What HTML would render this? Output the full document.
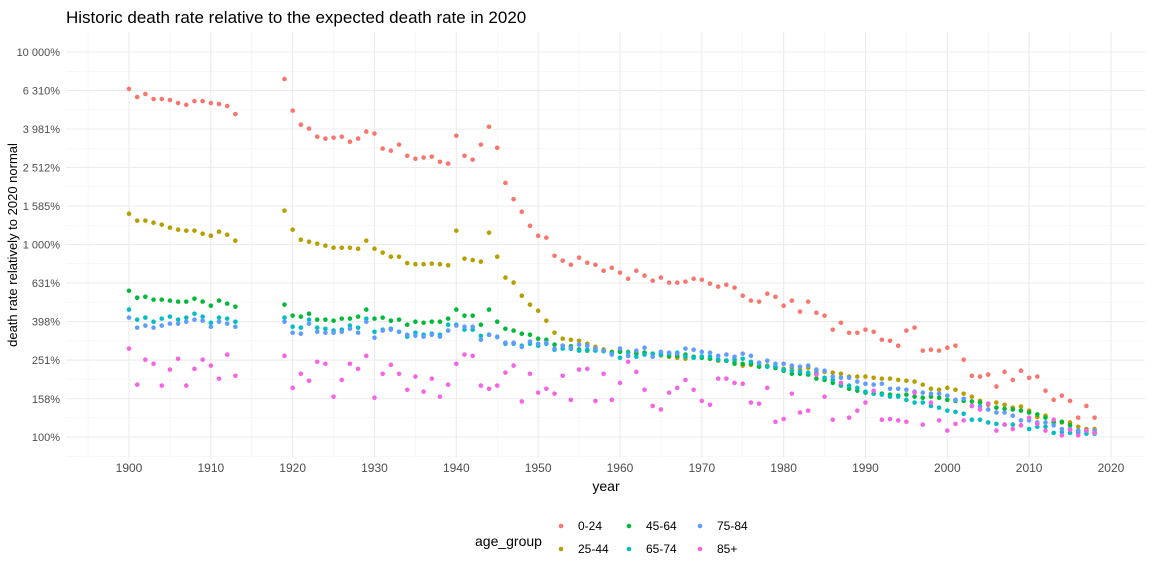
<!DOCTYPE html>
<html><head><meta charset="utf-8"><style>
body{margin:0;background:#fff;}
svg{display:block;font-family:"Liberation Sans",Arial,sans-serif;}
</style></head><body>
<svg id="chart" width="1152" height="576">
<rect width="1152" height="576" fill="#fff"/>
<text x="66" y="23" font-size="17" fill="#000">Historic death rate relative to the expected death rate in 2020</text>
<g id="grid"></g>
<g id="points"></g>
<g id="axes"></g>
<text x="606" y="491" font-size="14" text-anchor="middle" fill="#000">year</text>
<text transform="translate(17,245) rotate(-90)" font-size="13" text-anchor="middle" fill="#000">death rate relatively to 2020 normal</text>
<g id="legend">
<text x="475" y="546" font-size="14" fill="#000">age_group</text>
</g>
</svg>
<script>
const yearsA=[];for(let y=1900;y<=1913;y++)yearsA.push(y);for(let y=1919;y<=2018;y++)yearsA.push(y);
const groups=["0-24","25-44","45-64","65-74","75-84","85+"];
const s0_24=[6430,5840,6050,5700,5700,5630,5430,5310,5560,5560,5430,5370,5240,4760,
7240,4960,4190,4000,3630,3550,3590,3630,3420,3550,3860,3770,3150,3070,3300,2890,2790,2830,2860,2690,2630,3670,2890,2760,3300,4090,3180,
2090,1720,1480,1250,1110,1085,874,824,785,854,804,785,731,757,714,664,731,689,649,673,634,634,641,664,656,626,604,618,597,542,511,505,555,535,481,511,448,505,442,
427,361,392,348,348,361,352,320,316,298,357,370,281,284,281,291,298,252,208,206,211,183,218,198,221,203,206,174,156,164,154,126,145,126];
const s25_44=[1445,1330,1330,1298,1268,1223,1194,1180,1180,1138,1111,1165,1124,1047,
1499,1194,1059,1034,1010,986,962,962,962,951,1047,951,907,864,864,800,790,790,795,790,780,1180,844,830,815,1152,864,
673,634,542,487,453,402,348,324,320,316,305,294,285,277,280,277,276,274,270,265,261,258,255,258,258,255,249,249,246,235,237,232,235,230,226,229,224,229,218,
218,216,213,206,206,206,203,201,201,198,196,194,187,178,176,180,176,168,162,154,147,151,147,142,144,137,127,129,120,119,119,113,110,110];
const s45_64=[575,529,535,517,517,511,505,505,523,505,481,511,493,475,
487,427,422,437,407,407,402,412,412,422,459,412,417,402,407,383,397,392,397,397,412,459,427,427,383,459,397,
365,357,344,340,324,320,302,298,296,285,281,283,280,275,277,264,271,274,271,271,264,264,268,261,258,255,252,249,240,240,240,232,232,228,221,213,213,211,201,
198,191,185,178,174,170,168,168,166,164,166,162,160,162,160,156,154,154,153,151,149,142,140,139,137,134,131,126,119,120,115,108,107,106];
const s65_74=[459,407,417,397,412,422,407,417,437,422,392,417,412,397,
417,374,370,407,370,365,357,361,379,370,412,352,361,365,352,332,348,340,344,340,383,383,361,361,335,340,330,
305,305,298,305,298,305,284,288,287,281,284,281,279,271,258,275,261,268,270,268,271,274,261,258,262,261,252,250,252,255,246,240,232,232,224,221,218,216,213,
203,198,187,185,180,172,168,166,162,162,156,151,151,145,142,137,135,132,123,123,119,117,116,116,115,110,113,113,105,106,105,105,104,104];
const s75_84=[417,370,379,370,379,388,388,397,407,402,374,397,388,374,
397,348,344,388,352,348,348,352,365,348,397,328,357,361,352,340,336,332,340,332,357,379,374,374,320,340,332,
309,309,294,313,305,309,288,298,291,302,298,288,281,268,288,264,281,291,261,277,274,271,288,284,277,274,264,268,261,271,264,243,249,240,240,235,232,235,224,
221,206,203,203,194,189,187,189,178,178,176,172,170,168,168,164,156,158,145,144,139,134,134,129,122,122,119,119,115,110,110,108,108,108];
const s85=[288,187,252,240,185,224,255,185,226,252,235,201,268,208,
264,180,213,196,246,240,162,198,240,226,264,160,213,237,213,176,206,172,201,162,187,240,268,264,185,178,185,
216,235,153,213,170,178,168,208,156,224,226,154,213,156,191,246,218,176,145,139,170,180,198,176,154,147,201,201,191,189,151,149,180,120,124,168,134,137,211,
162,123,191,126,137,151,174,123,124,122,120,170,116,151,122,108,117,122,145,139,149,108,116,110,115,126,117,108,123,102,109,102,108,105];
const yTicks=[100,158,251,398,631,1000,1585,2512,3981,6310,10000];
const yTickLabels=["100%","158%","251%","398%","631%","1 000%","1 585%","2 512%","3 981%","6 310%","10 000%"];
const xTicks=[1900,1910,1920,1930,1940,1950,1960,1970,1980,1990,2000,2010,2020];

const NS="http://www.w3.org/2000/svg";
const colors=["#F8766D","#B79F00","#00BA38","#00BFC4","#619CFF","#F564E3"];
const series=[s0_24,s25_44,s45_64,s65_74,s75_84,s85];
const X0=66,X1=1145,Y0=32,Y1=458;
function xs(yr){return 129+(yr-1900)*8.183;}
function ys(v){return 437-192.5*Math.log10(v/100);}
function mk(tag,attrs,parent){const e=document.createElementNS(NS,tag);for(const k in attrs)e.setAttribute(k,attrs[k]);parent.appendChild(e);return e;}
const grid=document.getElementById('grid'),axes=document.getElementById('axes'),pts=document.getElementById('points'),leg=document.getElementById('legend');
for(let yr=1895;yr<=2025;yr+=10){const x=xs(yr);if(x<X0||x>X1)continue;
const l=mk('line',{x1:x,x2:x,y1:Y0,y2:Y1,stroke:'#f2f2f2','stroke-width':0.6},grid);

}
for(let e=1.9;e<=4.1;e+=0.2){const y=ys(Math.pow(10,e));if(y<Y0||y>Y1)continue;
const l=mk('line',{x1:X0,x2:X1,y1:y,y2:y,stroke:'#f2f2f2','stroke-width':0.6},grid);

}
xTicks.forEach(t=>{const x=xs(t);
const l=mk('line',{x1:x,x2:x,y1:Y0,y2:Y1,stroke:'#ebebeb','stroke-width':1.1},grid);


const tx=mk('text',{x:x,y:472,'font-size':12,'text-anchor':'middle',fill:'#4d4d4d'},axes);tx.textContent=t;

});
yTicks.forEach((t,i)=>{const y=ys(t);
const l=mk('line',{x1:X0,x2:X1,y1:y,y2:y,stroke:'#ebebeb','stroke-width':1.1},grid);


const tx=mk('text',{x:60,y:y+4,'font-size':11,'text-anchor':'end',fill:'#4d4d4d'},axes);tx.textContent=yTickLabels[i];

});
series.forEach((s,si)=>{const g=mk('g',{fill:colors[si]},pts);


s.forEach((v,i)=>{const c=mk('circle',{cx:xs(yearsA[i]),cy:ys(v),r:2.3},g);

});});
const legPos=[[561,526],[561,549],[629,526],[629,549],[700,526],[700,549]];
groups.forEach((gname,i)=>{const [x,y]=legPos[i];
const c=mk('circle',{cx:x,cy:y,r:2.3,fill:colors[i]},leg);


const t=mk('text',{x:x+17,y:y+4,'font-size':12,fill:'#000'},leg);t.textContent=gname;

});
</script>
</body></html>
